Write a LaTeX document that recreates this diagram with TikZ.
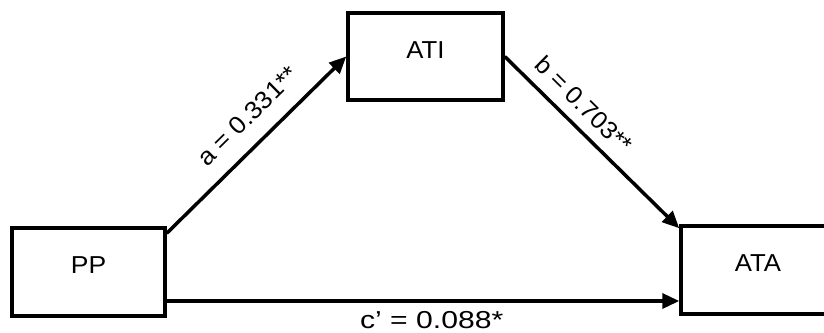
\documentclass[tikz,border=0pt]{standalone}
\usepackage{fontspec}
\usepackage{graphicx}
\setmainfont{Liberation Sans}
\usetikzlibrary{arrows.meta}
\begin{document}
\begin{tikzpicture}[x=1pt,y=-1pt,
  box/.style={draw, line width=3.5pt, minimum width=153pt, minimum height=88pt,
    inner sep=0pt, text height=18pt, text depth=14.5pt},
  conn/.style={line width=3.5pt, -{Triangle[length=17pt,width=15pt]}},
  lab/.style={font=\fontsize{24.5}{29}\selectfont}
  ]
\useasboundingbox (0,0) rectangle (824,332);
\node[box, lab] (PP) at (88.5,272) {\scalebox{1.08}[1]{PP}};
\node[box, lab, minimum width=155pt, minimum height=87pt] (ATI) at (425.5,56.5) {\scalebox{1.05}[1]{ATI}};
\node[box, lab, minimum width=154pt] (ATA) at (758,270) {\scalebox{1.05}[1]{ATA}};
\coordinate (cline) at (0,301);
\draw[conn] ([yshift=-7pt]PP.north east) -- (ATI.west)
  node[lab, pos=0.555, sloped, above, inner sep=0pt, outer sep=18pt] {\scalebox{1.07}[1]{a = 0.331**}};
\draw[conn] (ATI.east) -- ([yshift=-4pt]ATA.north west)
  node[lab, pos=0.369, sloped, above, inner sep=0pt, outer sep=12.5pt] {\scalebox{1.03}[1]{b = 0.703**}};
\draw[conn] (PP.east |- cline) -- (ATA.west |- cline)
  node[lab, pos=0.517, below, inner sep=0pt, outer sep=10pt] {\scalebox{1.23}[1]{c’ = 0.088*}};
\end{tikzpicture}
\end{document}
